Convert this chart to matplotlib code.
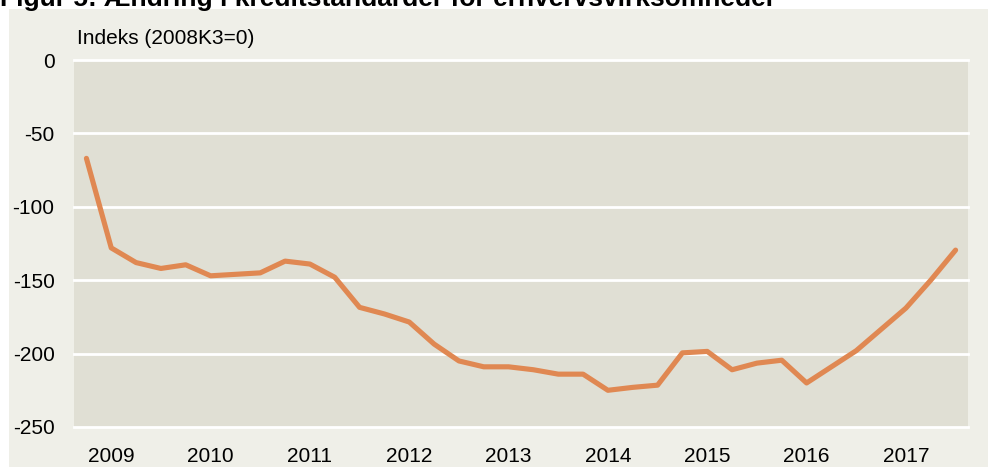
import matplotlib
matplotlib.use("Agg")
import matplotlib.pyplot as plt
from matplotlib.patches import Rectangle

# quarterly index, 2008K4 .. 2017K3 (2008K3 = 0)
quarters = [f"{y}K{q}" for y in range(2008, 2018) for q in range(1, 5)][3:39]
index_vals = [-67, -128, -138, -142, -139.5, -147, -146, -145,
              -137, -139, -148, -168.5, -173, -178.5, -193.5, -205,
              -209, -209, -211, -214, -214, -225, -223, -221.5,
              -199.5, -198.5, -211, -206.5, -204.5, -220, -209, -198,
              -183.5, -169, -150, -129.5]
year_labels = ["2009", "2010", "2011", "2012", "2013", "2014", "2015", "2016", "2017"]
yticks = [0, -50, -100, -150, -200, -250]

plt.rcParams['font.family'] = ['Liberation Sans', 'DejaVu Sans']

W, H = 988, 467
fig = plt.figure(figsize=(W / 100, H / 100), dpi=100, facecolor='white')

# light panel behind the chart
panel = Rectangle((9 / W, 0), 1, (H - 9) / H, transform=fig.transFigure,
                  facecolor='#efefe8', edgecolor='none', zorder=-10)
fig.add_artist(panel)

# title, cut off at the top edge
fig.text(0.0, 1 - 6 / H, "Figur 5: Ændring i kreditstandarder for erhvervsvirksomheder",
         fontsize=19, fontweight='bold', ha='left', va='baseline')

ax = fig.add_axes([74 / W, (H - 427) / H, (968 - 74) / W, (427 - 60) / H])
ax.set_facecolor('#e0dfd4')

x = list(range(len(index_vals)))
ax.plot(x, index_vals, color='#e08852', linewidth=3.7, solid_capstyle='round', zorder=3)

ax.set_xlim(-0.5, len(index_vals) - 0.5)
ax.set_ylim(-250, 0)
xt = [quarters.index(f"{y}K1") for y in year_labels]
ax.set_xticks(xt)
ax.set_xticklabels(year_labels)
ax.set_yticks(yticks)
ax.set_yticklabels([str(v) for v in yticks])
ax.grid(axis='y', color='white', linewidth=2)
ax.set_axisbelow(True)
for s in ax.spines.values():
    s.set_visible(False)
ax.tick_params(axis='both', length=0, labelsize=15, colors='black')
ax.tick_params(axis='y', pad=14)
ax.tick_params(axis='x', pad=14.5)
for ln in ax.get_ygridlines():
    ln.set_clip_on(False)

fig.text(77 / W, 1 - 38 / H, "Indeks (2008K3=0)", fontsize=15, ha='left', va='center')

fig.savefig('out.png', dpi=100, facecolor=fig.get_facecolor())
